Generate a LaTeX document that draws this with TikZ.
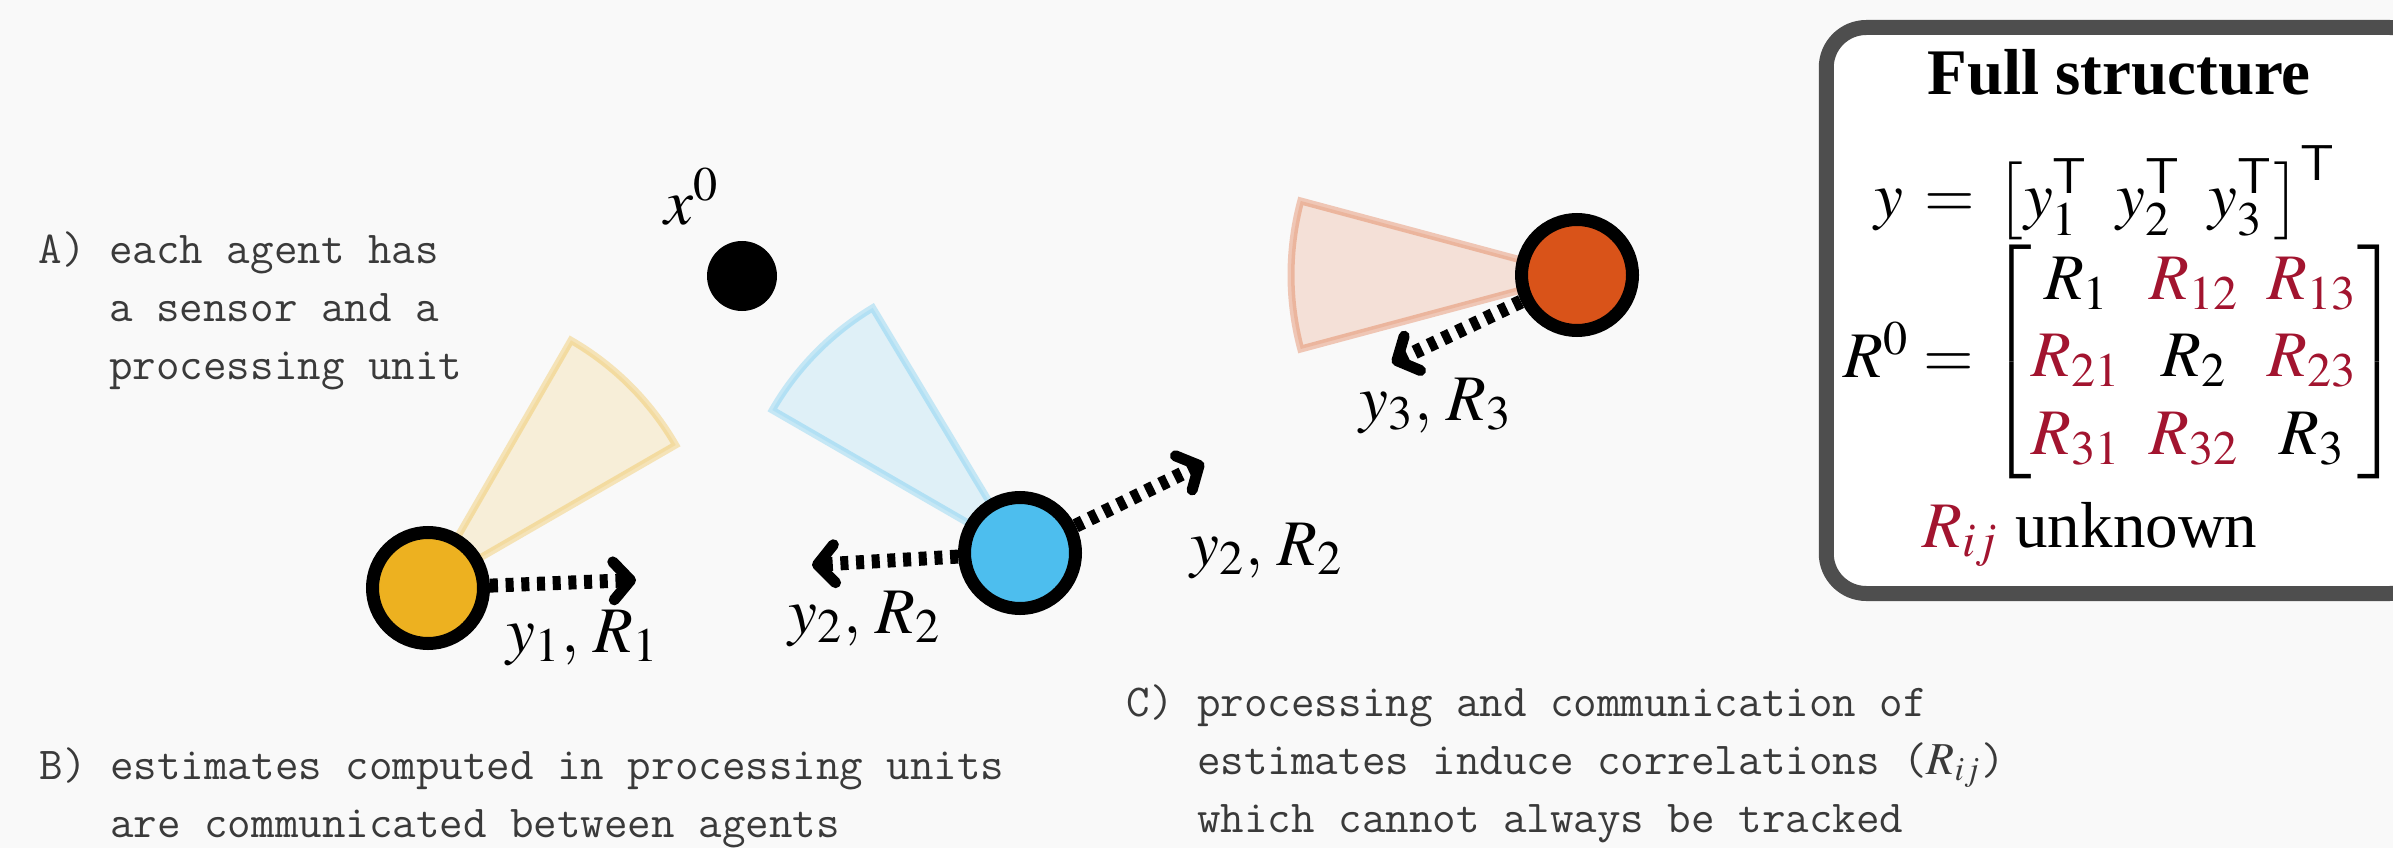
\documentclass[tikz,border=0pt]{standalone}
\usepackage{amsmath}
\usepackage{mathptmx}
\usepackage[no-math]{fontspec}
\setmainfont{Liberation Serif}
\usetikzlibrary{arrows.meta}

\definecolor{bgcol}{HTML}{F9F9F9}
\definecolor{ycol}{HTML}{EDB120}
\definecolor{bcol}{HTML}{4DBEEE}
\definecolor{rcol}{HTML}{D95319}
\definecolor{rij}{HTML}{A2142F}
\definecolor{txtgray}{HTML}{3A3A3A}

\begin{document}
\begin{tikzpicture}[
  agent/.style={circle, draw, line width=0.13cm, minimum size=1.11cm, inner sep=0pt, fill=#1},
  fov/.style={draw=#1, draw opacity=0.3, fill=#1, fill opacity=0.15, line width=2pt},
  msg/.style={line width=0.14cm, dash pattern=on 0.08cm off 0.077cm,
    -{Straight Barb[round, length=0.17cm, width=0.38cm, line width=0.11cm]}},
  lbl/.style={anchor=base, inner sep=0pt, font=\fontsize{18.5}{22}\selectfont},
  note/.style={anchor=base west, align=left, inner sep=0pt, text=txtgray,
    font=\ttfamily\fontsize{13}{16.5}\selectfont},
  panel/.style={draw=txtgray!90, line width=0.15cm, rounded corners=0.4cm, fill=white}
]
\fill[bgcol] (0,0) rectangle (23.93,8.48);
\useasboundingbox (0,0) rectangle (23.93,8.48);

\coordinate (p1) at (4.28,2.60);
\coordinate (p2) at (10.20,2.95);
\coordinate (p3) at (15.77,5.73);

% sensor cones
\draw[fov=ycol] (p1) -- ++(30:2.86) arc[start angle=30, end angle=60, radius=2.86] -- cycle;
\draw[fov=bcol] (p2) -- ++(121:2.86) arc[start angle=121, end angle=150, radius=2.86] -- cycle;
\draw[fov=rcol] (p3) -- ++(165:2.86) arc[start angle=165, end angle=195, radius=2.86] -- cycle;

\node[circle, fill, minimum size=0.70cm, inner sep=0pt] (target) at (7.42,5.72) {};
\node[lbl] (tlabel) at (6.92,6.24) {$x^0$};

\node[agent=ycol] (agent1) at (p1) {};
\node[agent=bcol] (agent2) at (p2) {};
\node[agent=rcol] (agent3) at (p3) {};

% estimates sent out
\coordinate (t1) at (6.36,2.68);
\coordinate (t2a) at (8.12,2.83);
\coordinate (t2b) at (12.04,3.85);
\coordinate (t3) at (13.92,4.85);
\draw[msg] (agent1) -- (t1);
\draw[msg] (agent2) -- (t2a);
\draw[msg] (agent2) -- (t2b);
\draw[msg] (agent3) -- (t3);

\node[lbl] (lab1) at (5.83,1.96) {$y_1,\, R_1$};
\node[lbl] (lab2a) at (8.65,2.15) {$y_2,\, R_2$};
\node[lbl] (lab2b) at (12.67,2.83) {$y_2,\, R_2$};
\node[lbl] (lab3) at (14.36,4.28) {$y_3,\, R_3$};

% anchors sit on the last line
\node[note] (notea) at (0.38,4.69) {A) each agent has\\\phantom{A)~}a sensor and a\\\phantom{A)~}processing unit};
\node[note] (noteb) at (0.39,0.11) {B) estimates computed in processing units\\\phantom{B)~}are communicated between agents};
\node[note] (notec) at (11.26,0.16) {C) processing and communication of\\\phantom{C)~}estimates induce correlations ($R_{ij}$)\\\phantom{C)~}which cannot always be tracked};

% full structure panel
\node[panel, minimum width=6.035cm, minimum height=5.66cm] (panel) at (21.28,5.375) {};
\node[lbl] (title) at (21.19,7.53) {\textbf{Full structure}};
\node[lbl] (yvec) at (21.05,6.31) {$\thickmuskip=6mu y = \bigl[y_1^{\mathsf{T}}\hspace{0.43em}y_2^{\mathsf{T}}\hspace{0.43em}y_3^{\mathsf{T}}\bigr]^{\mathsf{T}}$};
\node[lbl, anchor=center] (rmat) at (21.22,4.865) {\setlength{\arraycolsep}{4pt}$R^0 = \begin{bmatrix}
  R_1 & {\color{rij}R_{12}} & {\color{rij}R_{13}}\\
  {\color{rij}R_{21}} & R_2 & {\color{rij}R_{23}}\\
  {\color{rij}R_{31}} & {\color{rij}R_{32}} & R_3
\end{bmatrix}$};
\node[lbl] (unk) at (20.90,3.01) {${\color{rij}R_{ij}}$ unknown};
\end{tikzpicture}
\end{document}
